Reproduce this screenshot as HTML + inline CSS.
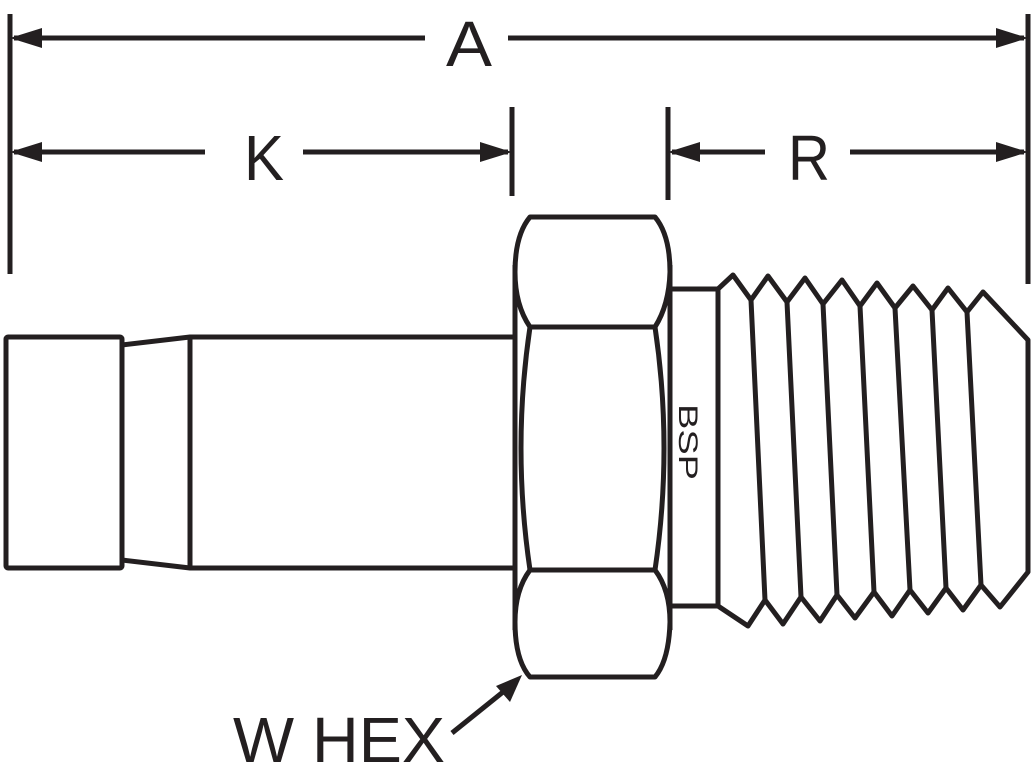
<!DOCTYPE html>
<html><head><meta charset="utf-8"><style>
html,body{margin:0;padding:0;background:#fff;}
svg{display:block}
text{font-family:"Liberation Sans Narrow","Liberation Sans",sans-serif;fill:#231f20}
</style></head><body>
<svg width="1035" height="768" viewBox="0 0 1035 768" xmlns="http://www.w3.org/2000/svg">
<g stroke="#231f20" stroke-width="5" fill="none" stroke-linejoin="round">
<!-- extension lines -->
<line x1="10" y1="14" x2="10" y2="274"/>
<line x1="1028" y1="14" x2="1028" y2="284"/>
<line x1="512" y1="107" x2="512" y2="196"/>
<line x1="668" y1="107" x2="668" y2="200"/>
<!-- A -->
<line x1="14" y1="38" x2="425" y2="38"/>
<line x1="508" y1="38" x2="1024" y2="38"/>
<!-- K -->
<line x1="14" y1="152" x2="205" y2="152"/>
<line x1="303" y1="152" x2="508" y2="152"/>
<!-- R -->
<line x1="672" y1="152" x2="765" y2="152"/>
<line x1="850" y1="152" x2="1024" y2="152"/>
<!-- W HEX arrow -->
<line x1="452" y1="733" x2="508" y2="688"/>
<!-- left part -->
<rect x="6" y="337" width="116" height="231" rx="2"/>
<path d="M122,345 L190,337 L190,568 L122,560"/>
<path d="M190,337 L515,337 M190,568 L515,568"/>
<!-- hex -->
<line x1="515" y1="265" x2="515" y2="630"/>
<line x1="670" y1="265" x2="670" y2="630"/>
<path d="M530,217 L655,217 Q670,235 670,272 Q669,305 655,327 L530,327 Q515,305 515,272 Q515,235 530,217 Z"/>
<path d="M530,327 Q512,448 530,570 M655,327 Q673,448 655,570"/>
<path d="M530,570 L655,570 Q670,590 670,622 Q669,660 655,677 L530,677 Q515,660 515,622 Q515,590 530,570 Z"/>
<!-- collar -->
<path d="M670,289 L718,289 L718,606 L670,606"/>
<!-- threads -->
<path d="M718,289 L733,275 L751,300 L768,276 L787,302 L805,278 L823,304 L842,280 L860,306 L877,283 L895,308 L913,286 L932,310 L948,288 L967,312 L983,292 L1028,340 L1028,572 L1000,607 L981,585 L963,610 L946,588 L928,613 L910,590 L892,616 L874,592 L855,618 L837,595 L820,621 L801,597 L783,624 L765,600 L748,626 L718,606"/>
<path d="M751,300 L765,600 M787,302 L801,597 M823,304 L837,595 M860,306 L874,592 M895,308 L910,590 M932,310 L946,588 M967,312 L981,585"/>
</g>
<g fill="#231f20">
<polygon points="10,38 42,28 42,48"/>
<polygon points="1028,38 996,28 996,48"/>
<polygon points="10,152 42,142 42,162"/>
<polygon points="512,152 480,142 480,162"/>
<polygon points="668,152 700,142 700,162"/>
<polygon points="1028,152 996,142 996,162"/>
<polygon points="522,675 496,686 510,702"/>
</g>
<text x="446" y="66" font-size="64" textLength="46" lengthAdjust="spacingAndGlyphs">A</text>
<text x="244" y="180" font-size="64" textLength="40" lengthAdjust="spacingAndGlyphs">K</text>
<text x="788" y="180" font-size="64" textLength="42" lengthAdjust="spacingAndGlyphs">R</text>
<text x="233" y="762" font-size="64" textLength="212" lengthAdjust="spacingAndGlyphs">W HEX</text>
<text transform="translate(679,404) rotate(90)" font-size="27" textLength="76" lengthAdjust="spacingAndGlyphs">BSP</text>
</svg>
</body></html>
